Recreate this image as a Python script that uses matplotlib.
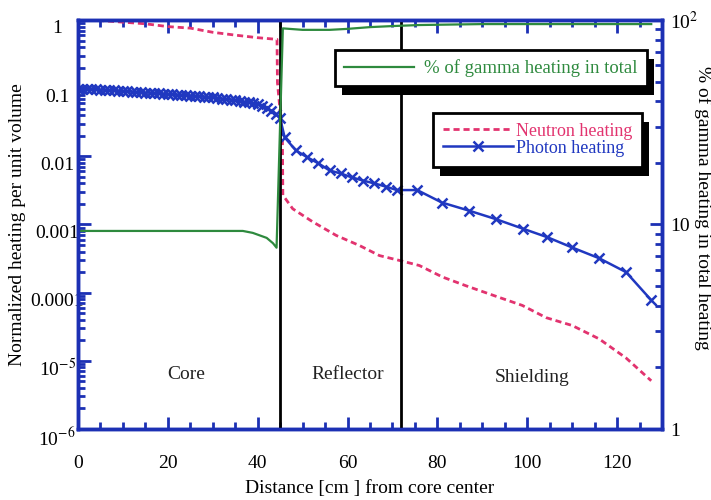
import matplotlib
matplotlib.use('Agg')
import matplotlib.pyplot as plt
import matplotlib.ticker as mticker
import matplotlib.transforms as mtransforms
from matplotlib.patches import Rectangle

# ── Heating profiles vs distance from core center
photon_x = [0, 1, 2, 3, 4, 5, 6, 7, 8, 9, 10, 11, 12, 13, 14, 15, 16, 17, 18, 19,
            20, 21, 22, 23, 24, 25, 26, 27, 28, 29, 30, 31, 32, 33, 34, 35, 36, 37,
            38, 39, 40, 41, 42, 43, 44, 45,
            46, 48.5, 51, 53.5, 56, 58.5, 61, 63.5, 66, 68.5, 71,
            75.5, 81, 87, 93, 99, 104.5, 110, 116, 122, 127.5]
photon_heat = [0.098, 0.098, 0.097, 0.097, 0.096, 0.095, 0.095, 0.094, 0.093, 0.092,
               0.091, 0.090, 0.089, 0.088, 0.087, 0.086, 0.086, 0.085, 0.084, 0.083,
               0.082, 0.081, 0.080, 0.080, 0.079, 0.078, 0.077, 0.076, 0.075, 0.074,
               0.073, 0.072, 0.070, 0.069, 0.068, 0.066, 0.065, 0.063, 0.062, 0.060,
               0.058, 0.055, 0.051, 0.047, 0.042, 0.036,
               0.019, 0.0122, 0.0097, 0.0079, 0.0062, 0.0056, 0.0049, 0.0044, 0.0040,
               0.0036, 0.0032,
               0.0032, 0.0021, 0.0016, 0.0012, 0.00087, 0.00065, 0.00046, 0.00032,
               0.00020, 0.000079]

neutron_x = [0, 5, 10, 15, 20, 25, 30, 35, 40, 44.3, 44.4, 45.5, 45.6, 47.8, 52.2,
             57.5, 62.7, 67.1, 72.2, 76, 81.1, 86.4, 93.8, 98.9, 104.2, 110, 116,
             122, 127.6]
neutron_heat = [1.0, 0.98, 0.93, 0.88, 0.80, 0.76, 0.66, 0.60, 0.55, 0.52, 0.12, 0.02,
                0.0027, 0.0017, 0.0011, 0.00069, 0.00049, 0.00035, 0.00029, 0.00025,
                0.00017, 0.000126, 0.000085, 0.000065, 0.000043, 0.000033, 0.000021,
                0.000011, 0.0000051]

gamma_x = [0, 36.7, 38.9, 42, 43.4, 44.2, 45.6, 50, 56, 60, 65, 70, 76, 90, 127.6]
gamma_pct = [9.3, 9.3, 9.1, 8.6, 8.1, 7.7, 91, 89.5, 89.5, 90.5, 92.3, 93.4, 94.5,
             95.5, 95.5]

boundaries = [45, 72]
regions = ['Core', 'Reflector', 'Shielding']
region_x = [24, 60, 101]
region_y = [6.4e-6, 6.4e-6, 5.6e-6]

left_ticks = [1e-6, 1e-5, 1e-4, 1e-3, 1e-2, 1e-1, 1]
left_labels = ['10$^{-6}$', '10$^{-5}$', '0.0001', '0.001', '0.01', '0.1', '1']
right_ticks = [1, 10, 100]
right_labels = ['1', '10', '10$^{2}$']

BLUE = '#1c30b4'
PHOTON = '#2038c0'
NEUTRON = '#e2336f'
GREEN = '#2e8a3e'

plt.rcParams['font.family'] = ['Liberation Serif', 'DejaVu Serif']
plt.rcParams['mathtext.fontset'] = 'stix'
plt.rcParams['font.size'] = 14

fig = plt.figure(figsize=(7.11, 5.0), dpi=100)
ax = fig.add_axes([0.1097, 0.142, 0.8214, 0.818])
ax2 = ax.twinx()

# ── Left axis: normalized heating
ax.plot(neutron_x, neutron_heat, color=NEUTRON, lw=2, ls=(0, (2.2, 1.4)),
        label='Neutron heating', zorder=2)
ax.plot(photon_x, photon_heat, color=PHOTON, lw=1.8, marker='x', ms=7, mew=1.8,
        label='Photon heating', zorder=2)
for b in boundaries:
    ax.axvline(b, color='k', lw=2, zorder=3)
for name, rx, ry in zip(regions, region_x, region_y):
    ax.text(rx, ry, name, ha='center', va='center', fontsize=14, color='#222222')

ax.set_xlim(0, 130)
ax.set_yscale('log')
ax.set_ylim(1e-6, 1)
ax.xaxis.set_major_locator(mticker.MultipleLocator(20))
ax.xaxis.set_minor_locator(mticker.MultipleLocator(5))
ax.yaxis.set_major_locator(mticker.FixedLocator(left_ticks))
ax.yaxis.set_minor_locator(mticker.LogLocator(base=10, subs=range(2, 10)))
ax.yaxis.set_minor_formatter(mticker.NullFormatter())
ax.set_yticklabels(left_labels)
ax.tick_params(axis='both', which='both', direction='in', color=BLUE, width=2)
ax.tick_params(axis='both', which='major', length=9)
ax.tick_params(axis='both', which='minor', length=5)
ax.tick_params(axis='x', which='both', top=True, pad=19)
ax.tick_params(axis='y', which='both', right=False, pad=15)
# labels sit centred a little below their tick
shift = mtransforms.ScaledTranslation(0, -5 / 72, fig.dpi_scale_trans)
for lab in ax.get_yticklabels():
    lab.set_horizontalalignment('center')
    lab.set_transform(lab.get_transform() + shift)

ax.set_xlabel('Distance [cm ] from core center', fontsize=14)
ax.xaxis.set_label_coords(0.5, -0.145)
ax.xaxis.label.set_va('center')
ax.set_ylabel('Normalized heating per unit volume', fontsize=14)
ax.yaxis.set_label_coords(-0.103, 0.5)
ax.yaxis.label.set_va('center')

# ── Right axis: gamma share of total heating
ax2.plot(gamma_x, gamma_pct, color=GREEN, lw=1.6, label='% of gamma heating in total')
ax2.set_yscale('log')
ax2.set_ylim(1, 100)
ax2.yaxis.set_major_locator(mticker.FixedLocator(right_ticks))
ax2.yaxis.set_minor_locator(mticker.LogLocator(base=10, subs=range(2, 10)))
ax2.yaxis.set_minor_formatter(mticker.NullFormatter())
ax2.set_yticklabels(right_labels)
ax2.tick_params(axis='y', which='both', direction='in', color=BLUE, width=2, pad=6)
ax2.tick_params(axis='y', which='major', length=9)
ax2.tick_params(axis='y', which='minor', length=5)
ax2.set_ylabel('% of gamma heating in total heating', fontsize=14, rotation=270)
ax2.yaxis.set_label_coords(1.07, 0.54)
ax2.yaxis.label.set_va('center')

for a in (ax, ax2):
    for sp in a.spines.values():
        sp.set_color(BLUE)
        sp.set_linewidth(2.5)

# ── Legends with solid offset shadows
leg_kw = dict(loc='upper right', frameon=True, fancybox=False, framealpha=1,
              edgecolor='k', borderaxespad=0)
h_g, l_g = ax2.get_legend_handles_labels()
leg1 = ax2.legend(h_g, l_g, bbox_to_anchor=(0.974, 0.927), handlelength=3.7,
                  handletextpad=0.55, borderpad=0.5, fontsize=13.5, **leg_kw)
leg1.get_texts()[0].set_color(GREEN)
ax2.add_artist(leg1)

h_n, l_n = ax.get_legend_handles_labels()
leg2 = ax2.legend(h_n, l_n, bbox_to_anchor=(0.966, 0.773), handlelength=3.9,
                  handletextpad=0.15, borderpad=0.55, labelspacing=0.0,
                  numpoints=1, fontsize=13, **leg_kw)
leg2.get_texts()[0].set_color(NEUTRON)
leg2.get_texts()[1].set_color(PHOTON)

for leg in (leg1, leg2):
    leg.get_frame().set_linewidth(2)
    leg.set_zorder(5)

fig.canvas.draw()
inv = fig.transFigure.inverted()
for leg in (leg1, leg2):
    bb = leg.get_frame().get_window_extent()
    (x0, y0), (x1, y1) = inv.transform([(bb.x0 + 7, bb.y0 - 9), (bb.x1 + 7, bb.y1 - 9)])
    shadow = Rectangle((x0, y0), x1 - x0, y1 - y0, transform=fig.transFigure,
                       facecolor='k', edgecolor='none', zorder=4.9)
    ax2.add_patch(shadow)

fig.savefig('out.png', dpi=100)
